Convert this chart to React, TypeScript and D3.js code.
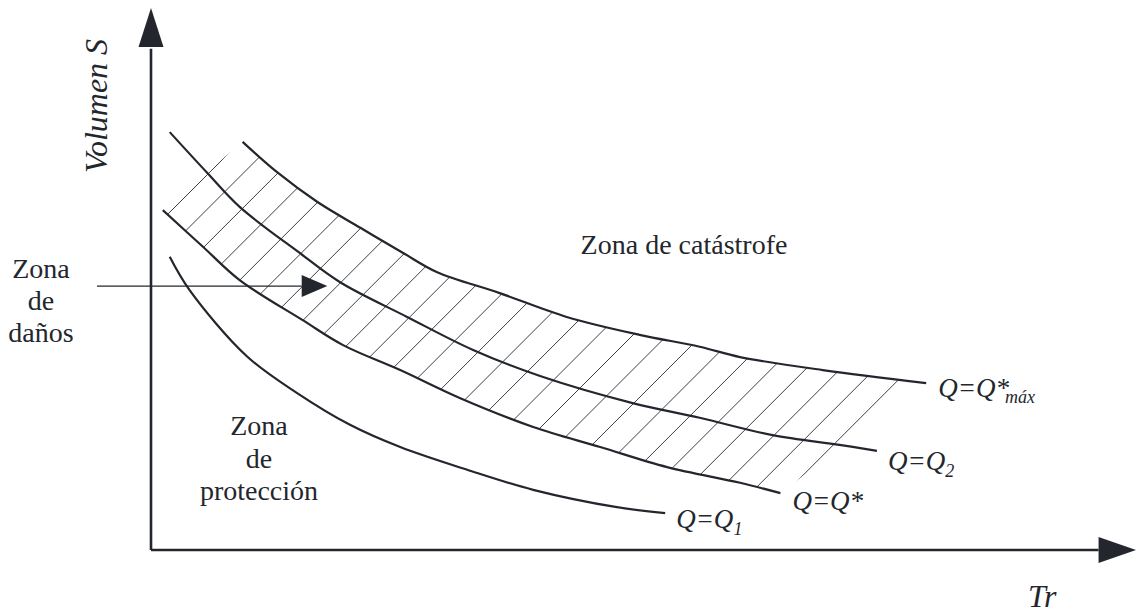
import * as d3 from 'd3';

// Tr (x) and Volumen S (y) in arbitrary units 0..100
const qMaxTr = [9.3, 12.8, 16.9, 21.3, 25.6, 29.0, 35.4, 42.2, 49.6, 55.7, 59.8, 68.2, 78.7];
const qMaxS = [75.3, 69.7, 64.2, 59.4, 54.8, 51.3, 47.4, 43.0, 39.7, 37.5, 35.6, 33.2, 30.8];

const q2Tr = [1.9, 5.7, 9.0, 15.1, 19.2, 26.0, 32.7, 39.5, 48.9, 55.7, 63.1, 69.9, 73.7];
const q2S = [77.1, 69.6, 63.3, 54.8, 49.4, 43.0, 36.9, 32.1, 27.1, 24.4, 21.2, 19.4, 18.3];

const qStarTr = [1.2, 5.3, 9.0, 15.4, 19.5, 25.3, 31.4, 38.8, 45.6, 52.4, 59.8, 63.9];
const qStarS = [62.7, 55.9, 49.8, 42.4, 37.8, 33.2, 28.0, 22.7, 19.0, 15.3, 12.4, 10.5];

const q1Tr = [1.9, 3.9, 9.7, 14.8, 20.2, 25.3, 32.1, 38.8, 47.3, 52.2];
const q1S = [54.1, 48.0, 35.8, 29.0, 23.1, 19.0, 14.8, 11.1, 7.9, 6.8];

const hatchCount = 27;

const W = 1136;
const H = 615;
const ink = '#23272d';
const serif = '"Liberation Serif", "Times New Roman", serif';

const x = d3.scaleLinear().domain([0, 100]).range([151, 1136]);
const y = d3.scaleLinear().domain([0, 100]).range([550, 8]);

const zip = (a: number[], b: number[]) => a.map((v, i) => [v, b[i]] as [number, number]);

const line = d3
  .line<[number, number]>()
  .x((d) => x(d[0]))
  .y((d) => y(d[1]))
  .curve(d3.curveCatmullRom);

const qMax = zip(qMaxTr, qMaxS);
const q2 = zip(q2Tr, q2S);
const qStar = zip(qStarTr, qStarS);
const q1 = zip(q1Tr, q1S);

// hatched band: between Q* and Q*max, closed by straight ends
const bandPath =
  line(qStar) + 'L' + (line([...qMax].reverse()) as string).slice(1) + 'Z';

// 45deg hatch lines x + y = c, evenly spaced
const c0 = x(qStarTr[0]) + y(qStarS[0]) + 9;
const c1 = x(qMaxTr[qMaxTr.length - 1]) + y(qMaxS[qMaxS.length - 1]) - 31;
const hatch = d3.range(hatchCount).map((i) => c0 + (i * (c1 - c0)) / (hatchCount - 1));

const last = (a: number[]) => a[a.length - 1];

export default function App() {
  const ax0 = x(0);
  const ay0 = y(0);
  return (
    <svg width={W} height={H} style={{ position: 'absolute', left: 0, top: 0, background: '#fff' }}>
      <defs>
        <clipPath id="band">
          <path d={bandPath} />
        </clipPath>
      </defs>

      {/* hatching */}
      <g clipPath="url(#band)" stroke="#3a3e44" strokeWidth={1}>
        {hatch.map((c, i) => (
          <line key={i} x1={c - 700} y1={700} x2={c} y2={0} />
        ))}
      </g>

      {/* curves */}
      <g fill="none" stroke={ink} strokeWidth={2.2}>
        <path d={line(qMax) as string} />
        <path d={line(q2) as string} />
        <path d={line(qStar) as string} />
        <path d={line(q1) as string} />
      </g>

      {/* axes */}
      <g stroke={ink} strokeWidth={2.6} fill="none">
        <line x1={ax0} y1={ay0} x2={ax0} y2={y(92.5)} />
        <line x1={ax0} y1={ay0} x2={x(96.2)} y2={ay0} />
      </g>
      <g fill={ink}>
        <path d={`M${ax0},${y(100)}L${ax0 - 12.5},${y(92.8)}L${ax0 + 12.5},${y(92.8)}Z`} />
        <path d={`M${x(100)},${ay0}L${x(96.2)},${ay0 - 13}L${x(96.2)},${ay0 + 13}Z`} />
      </g>

      {/* pointer to damage zone */}
      <line x1={97} y1={y(48.7)} x2={x(15.3)} y2={y(48.7)} stroke={ink} strokeWidth={1.3} />
      <path
        d={`M${x(17.9)},${y(48.7)}L${x(15.3)},${y(48.7) - 11}L${x(15.3)},${y(48.7) + 11}Z`}
        fill={ink}
      />

      {/* axis titles */}
      <text
        transform={`translate(107,106) rotate(-90)`}
        textAnchor="middle"
        fontFamily={serif}
        fontStyle="italic"
        fontSize={32}
        fill={ink}
      >
        Volumen S
      </text>
      <text x={1028} y={607} fontFamily={serif} fontStyle="italic" fontSize={32} fill={ink}>
        Tr
      </text>

      {/* zone labels */}
      <g fontFamily={serif} fontSize={28} fill={ink} textAnchor="middle">
        <text x={684} y={254}>Zona de catástrofe</text>
        <text x={41} y={278}>Zona</text>
        <text x={41} y={310}>de</text>
        <text x={41} y={342}>daños</text>
        <text x={259} y={435}>Zona</text>
        <text x={259} y={468}>de</text>
        <text x={259} y={500}>protección</text>
      </g>

      {/* curve labels */}
      <g fontFamily={serif} fontStyle="italic" fontSize={27} fill={ink}>
        <text x={x(last(qMaxTr)) + 12} y={y(last(qMaxS)) + 14}>
          Q=Q*
          <tspan fontSize={18} dx={-4} dy={6}>máx</tspan>
        </text>
        <text x={x(last(q2Tr)) + 11} y={y(last(q2S)) + 19}>
          Q=Q
          <tspan fontSize={18} dy={7}>2</tspan>
        </text>
        <text x={x(last(qStarTr)) + 12} y={y(last(qStarS)) + 17}>
          Q=Q*
        </text>
        <text x={x(last(q1Tr)) + 11} y={y(last(q1S)) + 15}>
          Q=Q
          <tspan fontSize={18} dy={7}>1</tspan>
        </text>
      </g>
    </svg>
  );
}
